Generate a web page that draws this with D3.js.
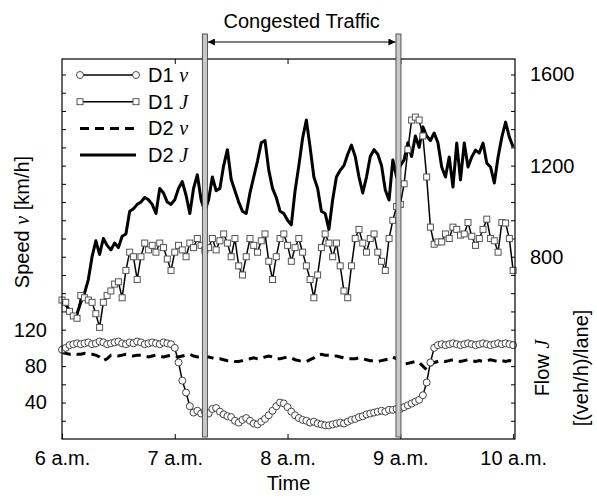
<!DOCTYPE html>
<html><head><meta charset="utf-8">
<script src="https://cdn.jsdelivr.net/npm/d3@7/dist/d3.min.js"></script>
<style>
body{margin:0;background:#fff;}
svg text{font-family:"Liberation Sans",Arial,Helvetica,sans-serif;fill:#000;}
</style></head>
<body><svg id="c" width="597" height="498"></svg>
<script>
// time in minutes after 6 a.m., one sample every 2 minutes
const times = d3.range(0, 241, 2);
const d1Speed = [98,100,103,104,105,104,
  105,106,104,105,107,106,104,105,106,107,105,104,106,105,107,106,104,105,106,105,104,106,105,104,
  100,84,64,51,36,
  29,31,28,30,28,33,34,30,27,25,24,20,18,21,23,20,17,16,19,22,26,31,36,40,39,35,30,26,23,21,
  20,18,19,17,16,15,15,16,17,18,17,19,21,22,24,25,27,28,29,30,31,30,32,32,33,
  33,35,37,39,41,43,48,62,84,100,
  103,104,103,104,105,104,103,104,105,104,103,104,105,104,103,104,105,104,105,104,103];
const d1Flow = [610,600,560,540,530,630,620,610,600,550,490,600,630,650,680,690,620,740,820,800,
  700,800,860,830,850,820,860,840,790,740,820,850,830,800,860,840,880,850,830,
  840,880,830,870,900,860,800,880,760,720,800,880,850,820,870,900,780,700,800,880,
  900,850,780,840,880,820,760,700,620,720,840,900,860,800,860,760,650,620,760,880,
  920,860,820,880,900,820,780,740,880,960,1020,
  1030,1120,1270,1400,1413,1400,1330,1150,930,855,865,865,900,880,930,920,895,900,950,890,
  850,880,920,965,880,870,820,950,948,880,740];
const d2Speed = [95,94,93,94,93,93,94,93,93,92,
  90,86,88,92,
  92,91,92,93,92,91,92,92,91,90,91,92,91,90,91,92,91,90,91,92,
  93,91,90,91,90,90,89,88,88,87,86,86,85,85,86,87,88,89,88,89,90,91,90,88,88,89,90,89,87,86,85,85,
  87,89,92,93,92,92,91,91,90,89,88,88,88,89,88,87,86,86,85,86,87,88,90,88,
  84,82,83,84,85,84,80,76,80,84,
  85,86,85,86,87,86,85,86,87,86,85,86,85,86,87,86,85,86,85,86,85];
const d2Flow = [605,590,565,535,550,600,640,700,800,870,810,880,850,830,860,840,890,900,1000,1010,
  1030,1040,1060,1050,1030,990,1100,1080,1040,1030,1050,1100,1130,1070,990,1100,1160,1050,1000,
  1050,1150,1090,1100,1200,1270,1140,1090,1040,1000,990,1080,1150,1220,1300,1310,1180,1100,1060,1000,
  990,960,940,1090,1200,1320,1400,1280,1150,1100,1000,990,920,1050,1150,1180,1200,1250,1290,1240,
  1150,1080,1150,1240,1270,1250,1200,1093,1049,1225,1150,
  1200,1225,1300,1240,1330,1280,1370,1330,1310,1343,1300,1194,1150,1238,1106,1299,1137,1299,1194,1238,
  1268,1255,1299,1211,1194,1124,1238,1325,1391,1325,1282];
const congestion = [76, 179];
const xTickValues = [0, 60, 120, 180, 240];
const xTickLabels = ["6 a.m.", "7 a.m.", "8 a.m.", "9 a.m.", "10 a.m."];
const speedLabels = [40, 80, 120];
const flowLabels = [800, 1200, 1600];
const legendLabels = [["D1 ", "v"], ["D1 ", "J"], ["D2 ", "v"], ["D2 ", "J"]];

const L = 62, R = 515, T = 59, B = 439;
const svg = d3.select("#c");
const x = d3.scaleLinear().domain([0, 241]).range([L, R]);
const yS = d3.scaleLinear().domain([0, 417]).range([B, T]);
const yF = d3.scaleLinear().domain([0, 1668]).range([B, T]);

const FS = 20;
const ax = svg.append("g");
const axBottom = d3.axisBottom(x).tickValues(xTickValues).tickSizeInner(-5).tickSizeOuter(0).tickPadding(12)
  .tickFormat((d, i) => xTickLabels[i]);
ax.append("g").attr("transform", `translate(0,${B})`).call(axBottom);
const axTop = d3.axisTop(x).tickValues(xTickValues.slice(1, -1)).tickSizeInner(-5).tickSizeOuter(0).tickFormat("");
ax.append("g").attr("transform", `translate(0,${T})`).call(axTop);
const axLeft = d3.axisLeft(yS).tickValues(d3.range(20, 417, 20)).tickSizeInner(-4).tickSizeOuter(0).tickPadding(15)
  .tickFormat(d => speedLabels.includes(d) ? d : "");
ax.append("g").attr("transform", `translate(${L},0)`).call(axLeft);
const axRight = d3.axisRight(yF).tickValues(d3.range(80, 1668, 80)).tickSizeInner(-4).tickSizeOuter(0).tickPadding(15)
  .tickFormat(d => flowLabels.includes(d) ? d : "");
ax.append("g").attr("transform", `translate(${R},0)`).call(axRight);
ax.selectAll(".domain").remove();
ax.selectAll("g").attr("font-size", FS).attr("font-family", "Liberation Sans, Arial, sans-serif");
ax.selectAll(".tick line").attr("stroke", "#000");
ax.selectAll("text").attr("fill", "#000");

const px = (d, i) => x(times[i]);
const lineS = d3.line().x(px).y(d => yS(d));
const lineF = d3.line().x(px).y(d => yF(d));
const plot = svg.append("g");

plot.append("path").attr("d", lineF(d2Flow)).attr("fill", "none").attr("stroke", "#000").attr("stroke-width", 3).attr("stroke-linejoin", "round");

plot.append("path").attr("d", lineF(d1Flow)).attr("fill", "none").attr("stroke", "#000").attr("stroke-width", 1.5);
plot.selectAll(".sq").data(d1Flow).join("rect").attr("class", "sq")
  .attr("x", (d, i) => px(d, i) - 3).attr("y", d => yF(d) - 3).attr("width", 6).attr("height", 6)
  .attr("fill", "#fff").attr("stroke", "#555").attr("stroke-width", 1);

plot.append("path").attr("d", lineS(d2Speed)).attr("fill", "none").attr("stroke", "#000").attr("stroke-width", 3).attr("stroke-dasharray", "9,6");

plot.append("path").attr("d", lineS(d1Speed)).attr("fill", "none").attr("stroke", "#000").attr("stroke-width", 1.5);
plot.selectAll(".ci").data(d1Speed).join("circle").attr("class", "ci")
  .attr("cx", px).attr("cy", d => yS(d)).attr("r", 3.5)
  .attr("fill", "#fff").attr("stroke", "#444").attr("stroke-width", 1);

svg.append("rect").attr("x", L).attr("y", T).attr("width", R - L).attr("height", B - T)
  .attr("fill", "none").attr("stroke", "#000").attr("stroke-width", 1.2);

congestion.forEach(t => {
  svg.append("rect").attr("x", x(t) - 2.5).attr("y", 34).attr("width", 5).attr("height", B - 2 - 34)
    .attr("fill", "#c8c8c8").attr("stroke", "#333").attr("stroke-width", 0.8);
});
const defs = svg.append("defs");
defs.append("marker").attr("id", "ah").attr("viewBox", "0 0 10 10").attr("refX", 10).attr("refY", 5)
  .attr("markerWidth", 9).attr("markerHeight", 7).attr("markerUnits", "userSpaceOnUse").attr("orient", "auto-start-reverse")
  .append("path").attr("d", "M0,0L10,5L0,10Z").attr("fill", "#000");
svg.append("line").attr("x1", x(congestion[0]) + 3).attr("x2", x(congestion[1]) - 3).attr("y1", 42).attr("y2", 42)
  .attr("stroke", "#000").attr("stroke-width", 1).attr("marker-start", "url(#ah)").attr("marker-end", "url(#ah)");
svg.append("text").attr("x", (x(congestion[0]) + x(congestion[1])) / 2).attr("y", 28).attr("text-anchor", "middle")
  .attr("font-size", FS).text("Congested Traffic");

const lg = svg.append("g");
legendLabels.forEach((lab, i) => {
  const yy = 75 + i * 26.7;
  const g = lg.append("g");
  if (i < 2) {
    g.append("line").attr("x1", 80).attr("x2", 136).attr("y1", yy).attr("y2", yy).attr("stroke", "#000").attr("stroke-width", 1.5);
    [80, 136].forEach(xx => {
      if (i === 0) g.append("circle").attr("cx", xx).attr("cy", yy).attr("r", 3.5).attr("fill", "#fff").attr("stroke", "#444");
      else g.append("rect").attr("x", xx - 3).attr("y", yy - 3).attr("width", 6).attr("height", 6).attr("fill", "#fff").attr("stroke", "#555");
    });
  } else {
    g.append("line").attr("x1", 80).attr("x2", 136).attr("y1", yy).attr("y2", yy).attr("stroke", "#000").attr("stroke-width", 3)
      .attr("stroke-dasharray", i === 2 ? "9,6" : null);
  }
  const t = g.append("text").attr("x", 148).attr("y", yy + 7).attr("font-size", FS);
  t.append("tspan").text(lab[0]);
  t.append("tspan").attr("font-family", "Liberation Serif, Times New Roman, serif").attr("font-style", "italic").text(lab[1]);
});

svg.append("text").attr("transform", `translate(29,${(T + B) / 2 - 27}) rotate(-90)`).attr("text-anchor", "middle").attr("font-size", FS)
  .call(t => { t.append("tspan").text("Speed "); t.append("tspan").attr("font-family", "Liberation Serif, serif").attr("font-style", "italic").text("v"); t.append("tspan").text(" [km/h]"); });
svg.append("text").attr("transform", `translate(549,368) rotate(-90)`).attr("text-anchor", "middle").attr("font-size", FS)
  .call(t => { t.append("tspan").text("Flow "); t.append("tspan").attr("font-family", "Liberation Serif, serif").attr("font-style", "italic").text("J"); });
svg.append("text").attr("transform", `translate(588,368) rotate(-90)`).attr("text-anchor", "middle").attr("font-size", FS)
  .text("[(veh/h)/lane]");
svg.append("text").attr("x", (L + R) / 2).attr("y", 490).attr("text-anchor", "middle").attr("font-size", FS).text("Time");
</script></body></html>
